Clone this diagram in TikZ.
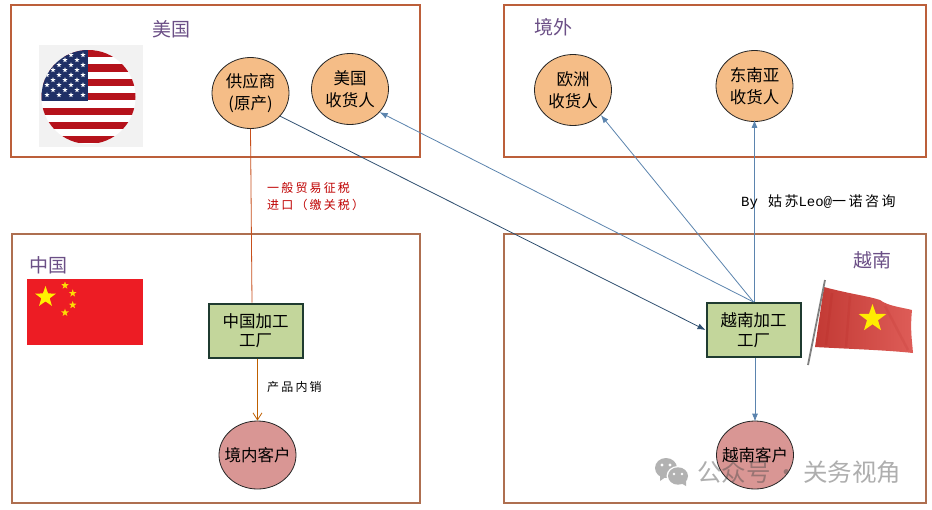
\documentclass[tikz,border=0pt]{standalone}
\usepackage{fontspec}
\usetikzlibrary{shapes.geometric,arrows.meta}
\setmainfont{Noto Sans CJK SC}
\newfontfamily\cjk{Noto Sans CJK SC}
\newfontfamily\cjkwide[LetterSpace=18]{Noto Sans CJK SC}
\newfontfamily\latinmono{Liberation Mono}
\definecolor{framec}{HTML}{BC5F3A}
\definecolor{framed}{HTML}{AE6F50}
\definecolor{purplec}{HTML}{6B4F86}
\definecolor{orangec}{HTML}{F5BD87}
\definecolor{rosec}{HTML}{D99694}
\definecolor{greenc}{HTML}{C3D69B}
\definecolor{bluec}{HTML}{5B84AE}
\definecolor{navyc}{HTML}{2F4F70}
\definecolor{redc}{HTML}{D8403A}
\definecolor{flagred}{HTML}{ED1C24}
\definecolor{usred}{HTML}{B5121B}
\definecolor{usblue}{HTML}{1F2F66}
\definecolor{plantline}{HTML}{1F3B30}
\definecolor{wmgray}{HTML}{B2B2B2}
\tikzset{
  region/.style={draw=framec,line width=2pt,fill=white},
  regionb/.style={draw=framed,line width=2pt,fill=white},
  regionlabel/.style={text=purplec,font=\cjk\fontsize{19}{21}\selectfont,inner sep=0pt},
  party/.style={ellipse,draw=black!85,line width=.8pt,fill=orangec,minimum width=77pt,minimum height=71pt,inner sep=0pt,align=center,font=\cjk\fontsize{16.5}{21.5}\selectfont},
  customer/.style={party,fill=rosec,minimum height=68pt,inner xsep=-7pt},
  plant/.style={rectangle,draw=plantline,line width=2pt,fill=greenc,minimum width=94pt,minimum height=54pt,inner sep=0pt,align=center,font=\cjk\fontsize{16.5}{19.5}\selectfont},
  flowb/.style={draw=bluec,line width=.8pt,-{Latex[length=8pt,width=6pt]}},
  note/.style={inner sep=0pt,align=left,font=\cjkwide\fontsize{12}{17}\selectfont},
  starshape/.style={star,star points=5,star point ratio=2.5,inner sep=0pt,draw=none}
}
\begin{document}
\begin{tikzpicture}[x=1pt,y=-1pt]
\useasboundingbox (0,0) rectangle (932,509);
\fill[white] (0,0) rectangle (932,509);
% regions
\draw[region] (11,5) rectangle (420,157);
\draw[region] (504,5) rectangle (926,157);
\draw[regionb] (12,234) rectangle (420,503);
\draw[regionb] (504,234) rectangle (926,503);
\node[regionlabel] (lus) at (171,29) {美国};
\node[regionlabel] (lab) at (553,27) {境外};
\node[regionlabel] (lcn) at (48,265) {中国};
\node[regionlabel] (lvn) at (872.5,260) {越南};
% US flag
\fill[black!5] (39,45) rectangle (143,147);
\begin{scope}
\clip (88.5,97) circle (47);
\fill[white] (40,49) rectangle (137,145);
\foreach \yy in {50,64.3,78.6,93,107.6,122,136} \fill[usred] (40,\yy) rectangle (137,\yy+7.2);
\fill[usblue] (40,49) rectangle (88,100.5);
\foreach \rr in {55,65,75,85,95}
  \foreach \cc in {0,1,2,3} \node[starshape,fill=white,minimum size=5.5pt] at (47+\cc*12,\rr) {};
\foreach \rr in {60,70,80,90}
  \foreach \cc in {0,1,2} \node[starshape,fill=white,minimum size=5.5pt] at (53+\cc*12,\rr) {};
\end{scope}
% China flag
\fill[flagred] (27,279) rectangle (143,345);
\node[starshape,fill=yellow,minimum size=22pt] at (45.5,297) {};
\node[starshape,fill=yellow!80!orange,minimum size=8pt] at (65,285.5) {};
\node[starshape,fill=yellow!80!orange,minimum size=8pt] at (72.7,293.3) {};
\node[starshape,fill=yellow!80!orange,minimum size=8pt] at (72.7,305) {};
\node[starshape,fill=yellow!80!orange,minimum size=8pt] at (65,312.7) {};
% Vietnam flag
\shade[left color=redc!90!black,right color=redc!85!white] (824,287) .. controls (850,294) and (868,296) .. (880,300) .. controls (888,306) and (900,307) .. (912,310)
  .. controls (910,330) and (912,340) .. (913,353) .. controls (885,350) and (850,349) .. (815,347) -- cycle;
\draw[red!60!black,opacity=.08,line width=2.5pt] (832,293) -- (826,345) (850,296) -- (846,347) (885,306) -- (908,350);
\draw[gray,line width=1.8pt] (825,280) -- (808,365);
\node[starshape,fill=yellow!95!orange,minimum size=29pt] at (872.5,318.5) {};
% nodes
\node[party] (sup) at (250.5,93) {供应商\\(原产)};
\node[party] (usr) at (350,89) {美国\\收货人};
\node[party] (eur) at (573,90) {欧洲\\收货人};
\node[party] (sea) at (754.5,86) {东南亚\\收货人};
\node[plant] (cnf) at (255.5,330.5) {中国加工\\工厂};
\node[plant] (vnf) at (753.5,330) {越南加工\\工厂};
\node[customer] (cnc) at (257.5,455) {境内客户};
\node[customer] (vnc) at (755,455) {越南客户};
% connectors
\draw[draw=redc!55!orange!85!black,line width=.8pt] (sup.south) -- ([xshift=-3.5pt]cnf.north);
\draw[draw=orange!75!black,line width=.8pt,-{Straight Barb[length=7pt,width=9pt]}] (cnf.south -| cnc.north) -- (cnc.north);
\draw[draw=navyc,line width=.8pt,-{Latex[length=8pt,width=6pt]}] (sup.-38) -- (vnf.west);
\draw[flowb] (vnf.north) -- (usr.-38);
\draw[flowb] (vnf.north) -- (eur.-42);
\draw[flowb] (vnf.north -| sea.south) -- ([yshift=2pt]sea.south);
\draw[flowb] (vnf.south -| vnc.north) -- ([yshift=-1pt]vnc.north);
% labels
\node[note,text=red!75!black,anchor=north west] (tax) at (267,182) {一般贸易征税\\进口（缴关税）};
\node[note,anchor=west] (dom) at (267,386.5) {产品内销};
\node[inner sep=0pt,anchor=west,font=\cjkwide\fontsize{14}{16}\selectfont] (by) at (741,202) {{\latinmono By}\hspace{10pt}姑苏{\latinmono Leo@}一诺咨询};
% watermark
\fill[wmgray] (666,468) ellipse (11 and 10);
\fill[wmgray] (660,481) -- (660,474) -- (667,476) -- cycle;
\fill[white] (662,465) circle (1.6) (670,465) circle (1.6);
\fill[white] (678,476) ellipse (11.5 and 10);
\fill[wmgray] (678,476) ellipse (10 and 8.7);
\fill[wmgray] (686,486) -- (686,478) -- (679,482) -- cycle;
\fill[white] (674,474) circle (1.3) (682,474) circle (1.3);
\node[inner sep=0pt,anchor=west,text=black!70,opacity=.45,font=\cjk\fontsize{24.5}{26}\selectfont] (wm) at (697,472) {公众号\hspace{4pt}·\hspace{4pt}关务视角};
\end{tikzpicture}
\end{document}
